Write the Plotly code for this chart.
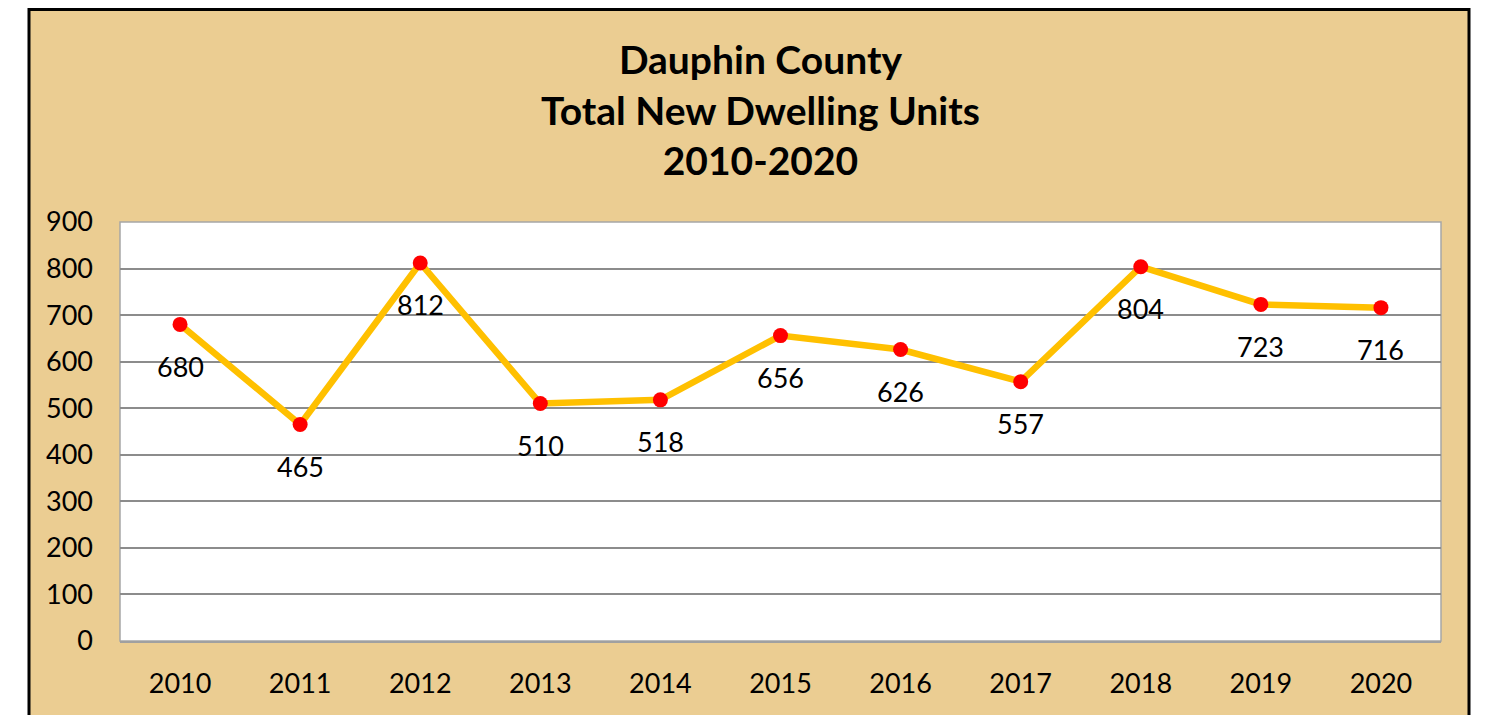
import plotly.graph_objects as go

years = ["2010", "2011", "2012", "2013", "2014", "2015", "2016", "2017", "2018", "2019", "2020"]
units = [680, 465, 812, 510, 518, 656, 626, 557, 804, 723, 716]
y_ticks = [0, 100, 200, 300, 400, 500, 600, 700, 800, 900]
title_lines = ["Dauphin County", "Total New Dwelling Units", "2010-2020"]

# the page puts the figure at an 8px offset
OFF = 8
W, H = 1486 - OFF, 715 - OFF
L, R, T, B = 120 - OFF, 45, 222 - OFF, 74
pw, ph = W - L - R, H - T - B

def px_x(p):
    return (p - OFF - L) / pw

def px_y(p):
    return (H - B - (p - OFF)) / ph

TAN = "#EBCD92"
FONT = "Lato, Carlito, 'Open Sans', sans-serif"

fig = go.Figure()
fig.add_trace(go.Scatter(
    x=years, y=units, mode="lines+markers",
    line=dict(color="#FFC000", width=6.5),
    marker=dict(color="#FF0000", size=15),
    showlegend=False, hoverinfo="x+y",
))

annotations = [
    dict(x=i, y=v, xref="x", yref="y", text=str(v), showarrow=False,
         yshift=-42, xanchor="center", yanchor="middle",
         font=dict(size=27, color="#000000", family=FONT))
    for i, v in enumerate(units)
]
annotations.append(dict(
    x=px_x(760), y=px_y(109), xref="paper", yref="paper",
    text="<br>".join("<b>%s</b>" % t for t in title_lines),
    showarrow=False, font=dict(size=39, color="#000000", family=FONT),
    xanchor="center", yanchor="middle", align="center",
))

shapes = [
    dict(type="rect", xref="paper", yref="paper", layer="below",
         x0=px_x(29), x1=px_x(1469), y0=px_y(760), y1=px_y(9.5),
         fillcolor=TAN, line=dict(color="#000000", width=3)),
    dict(type="rect", xref="paper", yref="paper", layer="below",
         x0=0, x1=1, y0=0, y1=1, fillcolor="#FFFFFF",
         line=dict(color="#A6A6A6", width=1.5)),
]

fig.update_layout(
    width=W, height=H,
    margin=dict(l=L, r=R, t=T, b=B, pad=0, autoexpand=False),
    paper_bgcolor="#FFFFFF", plot_bgcolor="#FFFFFF",
    font=dict(family=FONT, color="#000000"),
    shapes=shapes, annotations=annotations,
    xaxis=dict(type="category", range=[-0.5, 10.5], showgrid=False,
               showline=True, linecolor="#A0A0A0", linewidth=2,
               tickfont=dict(size=27, color="#000000", family=FONT),
               ticks="", ticklabelstandoff=18, zeroline=False, fixedrange=True,
               automargin=False),
    yaxis=dict(range=[0, 900], tickvals=y_ticks, showgrid=True,
               gridcolor="#8C8C8C", gridwidth=2, showline=False, zeroline=False,
               tickfont=dict(size=27, color="#000000", family=FONT),
               ticks="", ticklabelstandoff=26, fixedrange=True,
               automargin=False),
)

fig.write_html("out.html")
